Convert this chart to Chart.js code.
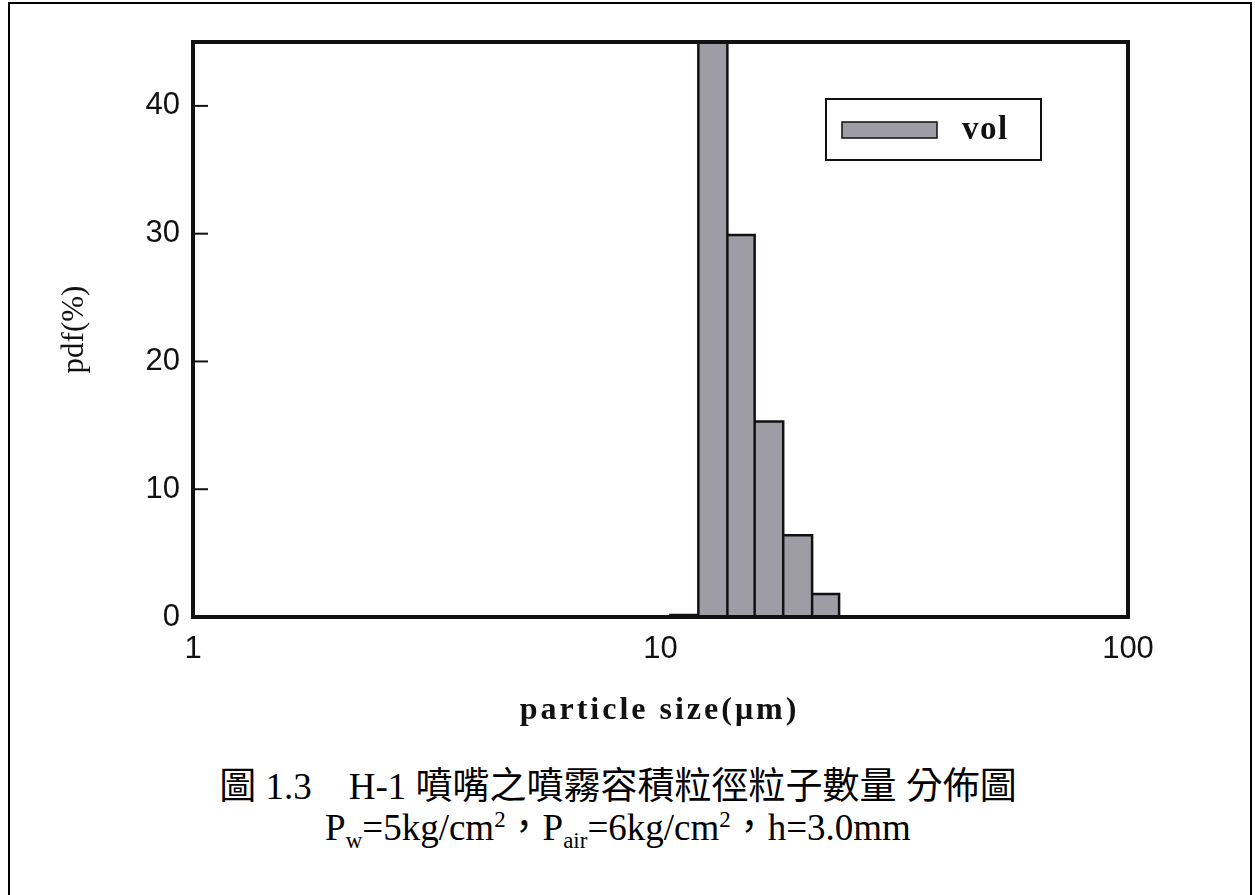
<!DOCTYPE html>
<html>
<head>
<meta charset="utf-8">
<title>H-1 噴嘴 粒徑分佈</title>
<script src="https://cdn.jsdelivr.net/npm/chart.js@4.4.1/dist/chart.umd.min.js"></script>
<style>
  html, body { margin: 0; padding: 0; background: #fff; }
  body { width: 1255px; height: 895px; position: relative; overflow: hidden; }
  #frame { position: absolute; left: 8px; top: 2px; width: 1244px; height: 960px;
           border: 2px solid #000; box-sizing: border-box; }
  #wrap { position: absolute; left: 0; top: 0; width: 1255px; height: 740px; }
  #caption { position: absolute; left: 0; top: 766px; width: 1236px; text-align: center;
             font-family: 'Liberation Serif', 'Noto Sans CJK TC', serif; font-size: 37px;
             line-height: 41px; color: #000; }
  #caption sub, #caption sup { font-size: 0.62em; line-height: 0; }
</style>
</head>
<body>
<div id="frame"></div>
<div id="wrap"><canvas id="chart" width="1255" height="740"></canvas></div>
<div id="caption">
  <div>圖 1.3　H-1 噴嘴之噴霧容積粒徑粒子數量 分佈圖</div>
  <div>P<sub>w</sub>=5kg/cm<sup>2</sup>，P<sub>air</sub>=6kg/cm<sup>2</sup>，h=3.0mm</div>
</div>
<script>
// --------------------------------
// || Data
// --------------------------------

// bin edges in µm
const binEdges = [10.5, 12.05, 13.9, 15.9, 18.3, 21.1, 24.1];
// pdf(%) per bin (first tall bar runs past the top of the frame)
const volPdf = [0.15, 46, 29.9, 15.3, 6.4, 1.8];

const xTicks = [1, 10, 100];
const yTicks = [0, 10, 20, 30, 40];

const seriesLabel = 'vol';
const xTitle = 'particle size(μm)';

// outline of the histogram as one filled polyline
const outline = [];
for (let i = 0; i < volPdf.length; i++) {
    outline.push({ x: binEdges[i], y: 0 });
    outline.push({ x: binEdges[i], y: volPdf[i] });
    outline.push({ x: binEdges[i + 1], y: volPdf[i] });
    outline.push({ x: binEdges[i + 1], y: 0 });
}

const barFill = '#9e9da6';
const ink = '#111';

// --------------------------------
// || Plugins
// --------------------------------

// thick box round the plot, inward y ticks, boxed legend, wide x title
const framePlugin = {
    id: 'frame',
    afterDatasetsDraw(chart) {
        const { ctx, chartArea: a, scales: { y } } = chart;
        ctx.save();
        ctx.strokeStyle = ink;
        ctx.lineWidth = 2;
        yTicks.forEach(v => {
            const py = y.getPixelForValue(v);
            ctx.beginPath();
            ctx.moveTo(a.left, py);
            ctx.lineTo(a.left + 15, py);
            ctx.stroke();
        });
        ctx.lineWidth = 4;
        ctx.strokeRect(a.left, a.top, a.right - a.left, a.bottom - a.top);

        // legend
        const lx = a.right - 302;
        const ly = a.top + 57;
        ctx.fillStyle = '#fff';
        ctx.fillRect(lx, ly, 215, 61);
        ctx.lineWidth = 2;
        ctx.strokeRect(lx, ly, 215, 61);
        ctx.fillStyle = barFill;
        ctx.fillRect(lx + 16, ly + 23, 95, 16);
        ctx.lineWidth = 1.5;
        ctx.strokeRect(lx + 16, ly + 23, 95, 16);
        ctx.fillStyle = ink;
        ctx.font = 'bold 33px "Liberation Serif", serif';
        ctx.letterSpacing = '1.5px';
        ctx.textBaseline = 'middle';
        ctx.textAlign = 'left';
        ctx.fillText(seriesLabel, lx + 136, ly + 31);

        // x axis title, the scan has it wide
        ctx.font = 'bold 32px "Liberation Serif", serif';
        ctx.letterSpacing = '3px';
        ctx.textAlign = 'center';
        ctx.fillText(xTitle, (a.left + a.right) / 2 - 1, a.bottom + 94);
        ctx.restore();
    }
};

// --------------------------------
// || Chart
// --------------------------------

const tickFont = { family: '"Liberation Sans", Arial, sans-serif', size: 31 };

new Chart(document.getElementById('chart'), {
    type: 'line',
    data: {
        datasets: [{
            label: seriesLabel,
            data: outline,
            borderColor: ink,
            borderWidth: 2.5,
            backgroundColor: barFill,
            fill: 'origin',
            pointRadius: 0,
            tension: 0,
            clip: 0
        }]
    },
    options: {
        responsive: false,
        animation: false,
        layout: { padding: { left: 40, right: 127, top: 42, bottom: 9 } },
        plugins: {
            legend: { display: false },
            tooltip: { enabled: false }
        },
        scales: {
            x: {
                type: 'logarithmic',
                min: 1,
                max: 100,
                afterBuildTicks: s => { s.ticks = xTicks.map(v => ({ value: v })); },
                afterFit: s => { s.height = 114; },
                grid: { display: false, drawTicks: false },
                border: { display: false },
                ticks: {
                    color: ink,
                    font: tickFont,
                    padding: 14,
                    maxRotation: 0,
                    autoSkip: false,
                    callback: v => String(v)
                },
                title: { display: false }
            },
            y: {
                min: 0,
                max: 45,
                afterBuildTicks: s => { s.ticks = yTicks.map(v => ({ value: v })); },
                afterFit: s => { s.width = 153; },
                grid: { display: false, drawTicks: false },
                border: { display: false },
                ticks: {
                    color: ink,
                    font: tickFont,
                    padding: 13
                },
                title: {
                    display: true,
                    text: 'pdf(%)',
                    color: ink,
                    font: { family: '"Liberation Serif", serif', size: 31 },
                    padding: { top: 16, bottom: 0 }
                }
            }
        }
    },
    plugins: [framePlugin]
});
</script>
</body>
</html>
